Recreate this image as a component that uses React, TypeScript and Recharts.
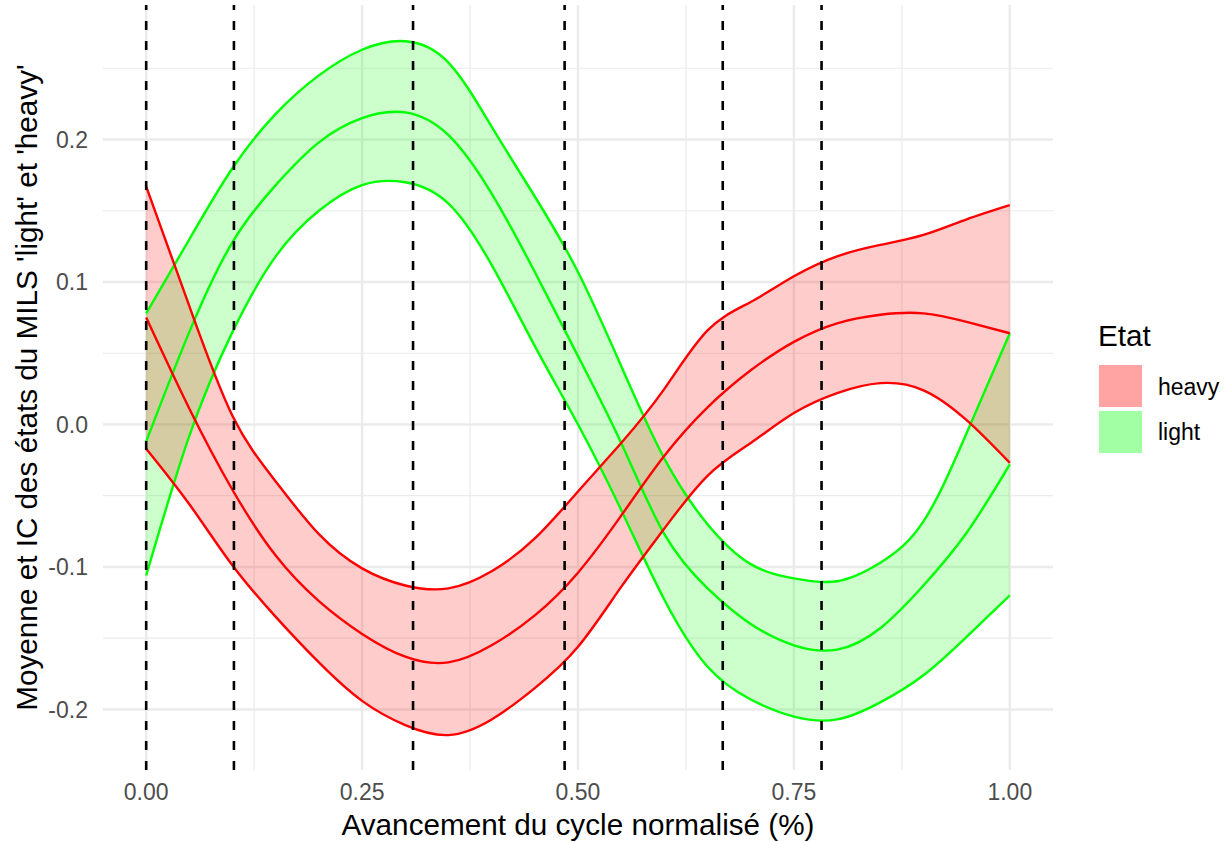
import { ComposedChart, Area, Line, XAxis, YAxis, CartesianGrid, ReferenceLine, Label } from "recharts"

// normalised cycle progress (x)
const cycle = [0, 0.05, 0.1, 0.15, 0.2, 0.25, 0.3, 0.35, 0.4, 0.45, 0.5, 0.55, 0.6, 0.65, 0.7, 0.75, 0.8, 0.85, 0.9, 0.95, 1]

// 'heavy' state: mean and CI bounds
const heavyMean = [0.075, 0.011, -0.046, -0.092, -0.124, -0.147, -0.163, -0.167, -0.155, -0.134, -0.104, -0.064, -0.022, 0.012, 0.038, 0.058, 0.071, 0.077, 0.078, 0.072, 0.064]
const heavyLow = [-0.017, -0.056, -0.099, -0.135, -0.167, -0.194, -0.211, -0.218, -0.207, -0.185, -0.156, -0.114, -0.073, -0.036, -0.013, 0.008, 0.022, 0.029, 0.024, 0.003, -0.027]
const heavyHigh = [0.167, 0.083, 0.006, -0.04, -0.077, -0.101, -0.113, -0.115, -0.103, -0.08, -0.047, -0.013, 0.025, 0.066, 0.086, 0.104, 0.118, 0.126, 0.133, 0.144, 0.154]

// 'light' state: mean and CI bounds
const lightMean = [-0.012, 0.065, 0.128, 0.168, 0.198, 0.215, 0.219, 0.203, 0.162, 0.107, 0.048, -0.013, -0.077, -0.115, -0.14, -0.155, -0.158, -0.143, -0.113, -0.076, -0.028]
const lightLow = [-0.106, -0.008, 0.065, 0.118, 0.15, 0.168, 0.17, 0.155, 0.112, 0.055, 0, -0.06, -0.123, -0.17, -0.193, -0.205, -0.207, -0.195, -0.176, -0.149, -0.12]
const lightHigh = [0.078, 0.13, 0.18, 0.218, 0.245, 0.263, 0.269, 0.254, 0.209, 0.16, 0.107, 0.041, -0.024, -0.07, -0.098, -0.108, -0.11, -0.097, -0.068, -0.006, 0.064]

// phase boundaries (dashed verticals)
const phaseBreaks = [0, 0.1016, 0.309, 0.4845, 0.6676, 0.782]

const xTicks = [0, 0.25, 0.5, 0.75, 1]
const xMinor = [0.125, 0.375, 0.625, 0.875]
const yTicks = [-0.2, -0.1, 0, 0.1, 0.2]
const yMinor = [-0.15, -0.05, 0.05, 0.15, 0.25]

const etats = ["heavy", "light"]
const keyColors = ["#FFA3A3", "#A3FFA3"]

const FONT = '"Liberation Sans", Arial, sans-serif'

const data = cycle.map((x, i) => ({
  x,
  heavyMean: heavyMean[i],
  heavyLow: heavyLow[i],
  heavyHigh: heavyHigh[i],
  heavyBand: [heavyLow[i], heavyHigh[i]],
  lightMean: lightMean[i],
  lightLow: lightLow[i],
  lightHigh: lightHigh[i],
  lightBand: [lightLow[i], lightHigh[i]],
}))

function YTitle({ viewBox }: any) {
  const cx = viewBox.x + 37
  const cy = viewBox.y + viewBox.height / 2
  return (
    <text x={cx} y={cy} transform={`rotate(-90 ${cx} ${cy})`} textAnchor="middle" fontSize={29.7} fill="#000" fontFamily={FONT}>
      Moyenne et IC des états du MILS 'light' et 'heavy'
    </text>
  )
}

function XTitle({ viewBox }: any) {
  return (
    <text x={viewBox.x + viewBox.width / 2} y={viewBox.y + viewBox.height - 7} textAnchor="middle" fontSize={29.7} fill="#000" fontFamily={FONT}>
      Avancement du cycle normalisé (%)
    </text>
  )
}

function EtatLegend() {
  return (
    <svg width={135} height={150} style={{ position: "absolute", left: 1090, top: 315 }}>
      <text x={8} y={31} fontSize={29.7} fontFamily={FONT} fill="#000">Etat</text>
      {etats.map((e, i) => (
        <g key={e}>
          <rect x={9} y={50 + i * 46} width={43} height={42} fill={keyColors[i]} />
          <text x={68} y={80 + i * 45} fontSize={23} fontFamily={FONT} fill="#000">{e}</text>
        </g>
      ))}
    </svg>
  )
}

export default function App() {
  const tick = { fontSize: 23, fill: "#4D4D4D", fontFamily: FONT }
  const curve = "natural" as const
  return (
    <div style={{ position: "relative", width: 1225, height: 842, background: "#fff" }}>
      <style>{`body{margin:0}`}</style>
      <ComposedChart width={1225} height={842} data={data} margin={{ top: 5, right: 172, left: 0, bottom: 0 }}>
        <CartesianGrid stroke="#EBEBEB" strokeWidth={1.2} horizontalValues={yMinor} verticalValues={xMinor} />
        <CartesianGrid stroke="#EBEBEB" strokeWidth={2.4} horizontalValues={yTicks} verticalValues={xTicks} />
        <XAxis
          dataKey="x"
          type="number"
          domain={[-0.05, 1.05]}
          ticks={xTicks}
          tickFormatter={(v: number) => v.toFixed(2)}
          tick={tick}
          axisLine={false}
          tickLine={false}
          tickSize={0}
          tickMargin={14}
          height={72}
          label={<Label content={XTitle} />}
        />
        <YAxis
          type="number"
          domain={[-0.2425, 0.2944]}
          ticks={yTicks}
          tickFormatter={(v: number) => v.toFixed(1)}
          tick={tick}
          axisLine={false}
          tickLine={false}
          tickSize={0}
          tickMargin={15}
          width={103}
          allowDataOverflow
          label={<Label content={YTitle} />}
        />
        <Area dataKey="lightBand" type={curve} fill="#00FF00" fillOpacity={0.2} stroke="none" isAnimationActive={false} activeDot={false} />
        <Line dataKey="lightHigh" type={curve} stroke="#00FF00" strokeWidth={2.4} dot={false} activeDot={false} isAnimationActive={false} />
        <Line dataKey="lightMean" type={curve} stroke="#00FF00" strokeWidth={2.4} dot={false} activeDot={false} isAnimationActive={false} />
        <Line dataKey="lightLow" type={curve} stroke="#00FF00" strokeWidth={2.4} dot={false} activeDot={false} isAnimationActive={false} />
        <Area dataKey="heavyBand" type={curve} fill="#FF0000" fillOpacity={0.2} stroke="none" isAnimationActive={false} activeDot={false} />
        <Line dataKey="heavyHigh" type={curve} stroke="#FF0000" strokeWidth={2.4} dot={false} activeDot={false} isAnimationActive={false} />
        <Line dataKey="heavyMean" type={curve} stroke="#FF0000" strokeWidth={2.4} dot={false} activeDot={false} isAnimationActive={false} />
        <Line dataKey="heavyLow" type={curve} stroke="#FF0000" strokeWidth={2.4} dot={false} activeDot={false} isAnimationActive={false} />
        {phaseBreaks.map((b) => (
          <ReferenceLine key={b} x={b} stroke="#000" strokeWidth={2.6} strokeDasharray="9 11" />
        ))}
      </ComposedChart>
      <EtatLegend />
    </div>
  )
}
